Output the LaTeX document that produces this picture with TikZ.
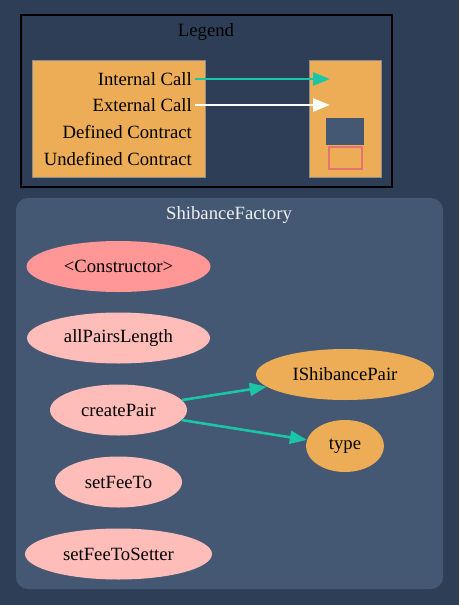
\documentclass[tikz,border=0pt]{standalone}
\usepackage{fontspec}
\setmainfont{Liberation Serif}
\usetikzlibrary{shapes.geometric}
\usetikzlibrary{arrows.meta}
\definecolor{bgdark}{HTML}{2E3E56}
\definecolor{clusterfill}{HTML}{445773}
\definecolor{publicfn}{HTML}{FF9797}
\definecolor{externalfn}{HTML}{FFBDB9}
\definecolor{undefcontract}{HTML}{EDAD56}
\definecolor{undefborder}{HTML}{E8726D}
\definecolor{callregular}{HTML}{1BC6A6}
\definecolor{lighttext}{HTML}{F0F0F0}

\begin{document}
\begin{tikzpicture}[x=1pt, y=-1pt,
	every node/.style={font=\fontsize{18.7}{22}\selectfont},
	fn/.style={ellipse, inner sep=0pt, minimum height=51pt},
	pubfn/.style={fn, fill=publicfn},
	extfn/.style={fn, fill=externalfn},
	undef/.style={fn, fill=undefcontract},
	legtext/.style={anchor=east, inner sep=3pt},
	legbox/.style={fill=undefcontract, draw=black!45, line width=0.4pt, minimum height=117pt, inner sep=0pt},
	internal/.style={draw=callregular, line width=2.6pt, -{Triangle[length=17pt, width=13pt]}},
	external/.style={draw=white, line width=2.6pt, -{Triangle[length=17pt, width=13pt]}}]
				\fill[bgdark] (0,0) rectangle (459,605);
				\draw[black, line width=1.3pt] (21,15) rectangle (392,187);
				\node (legend) at (206,32.5) {Legend};
				\node[legbox, minimum width=173pt] (keys) at (118.5,118.5) {};
				\node[legbox, minimum width=72pt] (swatches) at (345,118.5) {};
				\node[legtext] (ic) at (195,79) {Internal Call};
				\node[legtext] (ec) at (195,105) {External Call};
				\node[legtext] (dc) at (195,132) {Defined Contract};
				\node[legtext] (uc) at (195,159) {Undefined Contract};
				\coordinate (icend) at (330,79);
				\coordinate (ecend) at (330,105);
				\draw[internal] (ic.east) -- (icend);
				\draw[external] (ec.east) -- (ecend);
				\node[fill=clusterfill, minimum width=38pt, minimum height=27pt, inner sep=0pt] (defsw) at (345,131.5) {};
				\node[fill=undefcontract, draw=undefborder, line width=1.3pt, minimum width=33pt, minimum height=22pt, inner sep=0pt] (undefsw) at (345.5,158) {};
				\fill[clusterfill, rounded corners=12pt] (16,198) rectangle (443,589);
				\node[text=lighttext] (factory) at (229,215) {ShibanceFactory};
				\node[pubfn, minimum width=184pt] (ctor) at (118.5,266.5) {<Constructor>};
				\node[extfn, minimum width=183pt] (apl) at (118.5,338) {allPairsLength};
				\node[extfn, minimum width=137pt] (cp) at (118.5,410) {createPair};
				\node[extfn, minimum width=127pt] (sft) at (118.5,482) {setFeeTo};
				\node[extfn, minimum width=187pt] (sfts) at (118.5,554) {setFeeToSetter};
				\node[undef, minimum width=178pt] (isp) at (345,374.5) {IShibancePair};
				\node[undef, minimum width=78pt, minimum height=52pt] (ty) at (345,446) {type};
				\draw[internal] (cp) -- (isp);
				\draw[internal] (cp) -- (ty);
\end{tikzpicture}
\end{document}
